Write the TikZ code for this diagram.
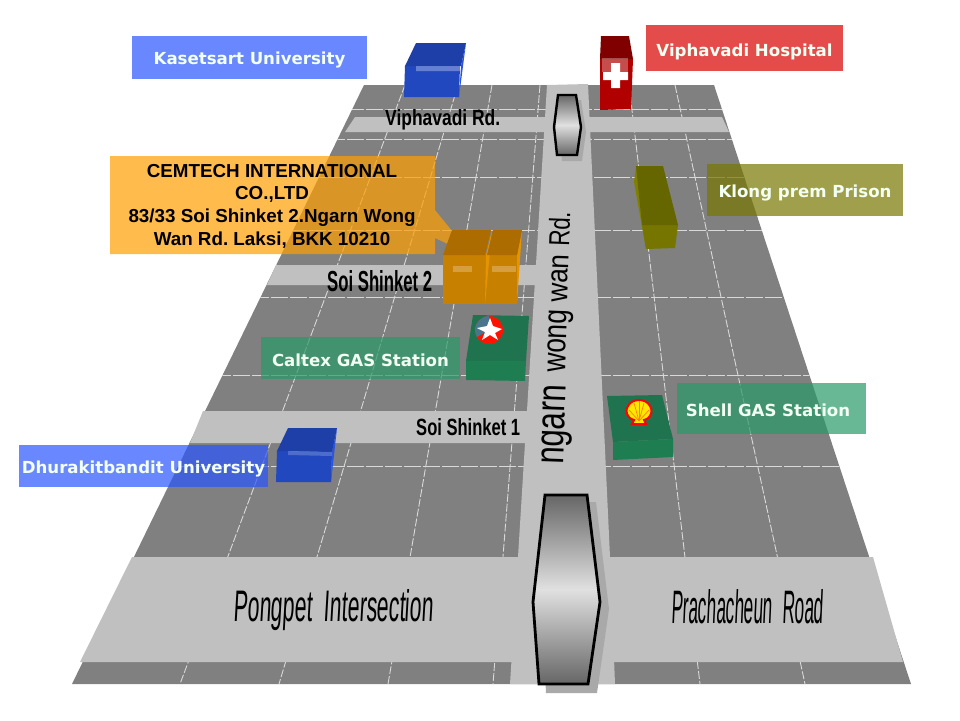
\documentclass[tikz,border=0pt]{standalone}
\usepackage{graphicx}
\usepackage{fontspec}
\setmainfont{Liberation Sans}
\newfontfamily\tagfont{DejaVu Sans}
\newfontfamily\leanfont[FakeSlant=0.12]{Liberation Sans}
\newcommand{\squeezed}[3]{\resizebox{#1pt}{#2pt}{#3}}
\newcommand{\lowered}[2]{\raisebox{-#1pt}[\height][\depth]{#2}}
\definecolor{groundgray}{HTML}{808080}
\definecolor{roadgray}{HTML}{C0C0C0}
\definecolor{shadegray}{HTML}{A9A9A9}
\definecolor{tagblue}{HTML}{2A55FF}
\definecolor{tagred}{HTML}{D80000}
\definecolor{tagolive}{HTML}{777700}
\definecolor{taggreen}{HTML}{2A9A68}
\definecolor{tagorange}{HTML}{FFA000}
\definecolor{blueroof}{HTML}{1F3FA8}
\definecolor{bluefront}{HTML}{2248C0}
\definecolor{blueside}{HTML}{2A55E0}
\definecolor{redroof}{HTML}{800000}
\definecolor{redfront}{HTML}{B00000}
\definecolor{oliveroof}{HTML}{666600}
\definecolor{olivefront}{HTML}{757500}
\definecolor{oliveside}{HTML}{808000}
\definecolor{orangeroof}{HTML}{AD6C00}
\definecolor{orangefront}{HTML}{C88000}
\definecolor{orangeside}{HTML}{E59400}
\definecolor{greenroof}{HTML}{20734F}
\definecolor{greenfront}{HTML}{1F7D52}

\begin{document}
\begin{tikzpicture}
				[x=1pt,y=-1pt,
				tag/.style={font=\tagfont\bfseries\fontsize{16.6}{20}\selectfont,text=white!95!green,fill opacity=.7,text opacity=1,inner sep=0pt},
				roadname/.style={anchor=base west,inner sep=0pt,text=black},
				gridline/.style={white!85!black,line width=.9pt}]
				\useasboundingbox (0,0) rectangle (960,720);
				\frenchspacing
				
				% ground and grid
				\fill[groundgray] (364,85) -- (714,85) -- (911,684) -- (72,684) -- cycle;
				\begin{scope}
				\clip (364,85) -- (714,85) -- (911,684) -- (72,684) -- cycle;
				\foreach \yy in {109,139,177,230,297,375,466}
				\draw[gridline,dash pattern=on 17pt off 2pt] (100,\yy) -- (900,\yy);
				\foreach \xa/\xb in {405/180,458/279,492/388,540/493,629/700,675/805}
				\draw[gridline,dash pattern=on 8pt off 2pt] (\xa,85) -- (\xb,684);
				\end{scope}
				
				% roads
				\fill[roadgray] (355,117) -- (722,117) -- (729,132) -- (345,132) -- cycle;
				\fill[roadgray] (276,265) -- (540,265) -- (540,285) -- (267,285) -- cycle;
				\fill[roadgray] (203,411) -- (530,411) -- (530,443) -- (190,443) -- cycle;
				\fill[roadgray] (132,557) -- (873,557) -- (903,662) -- (80,662) -- cycle;
				\fill[roadgray] (547,85) -- (588,84) -- (610,557) -- (615,684) -- (510,684) -- (518,557) -- cycle;
				
				% flyovers
				\fill[shadegray] (563,100) -- (581,100) -- (586,132) -- (582,161) -- (562,161) -- (559,132) -- cycle;
				\draw[line width=2.4pt,top color=black!60,bottom color=black!60,middle color=black!12] (558,95) -- (576,95) -- (581,127) -- (577,155) -- (557,155) -- (554,127) -- cycle;
				\fill[shadegray] (555,502) -- (596,502) -- (609,609) -- (597,693) -- (546,693) -- (542,609) -- cycle;
				\draw[line width=2.8pt,top color=black!60,bottom color=black!60,middle color=black!12] (545,495) -- (587,495) -- (600,602) -- (588,684) -- (539,684) -- (533,602) -- cycle;
				
				% name tags
				\node[tag,fill=tagblue,minimum width=235pt,minimum height=43pt] (kasetsart) at (249.5,57.5) {\lowered{2}{Kasetsart University}};
				\node[tag,fill=tagred,minimum width=197pt,minimum height=46pt] (hospital) at (744.5,48) {\lowered{3.5}{Viphavadi Hospital}};
				\node[tag,fill=tagolive,minimum width=196pt,minimum height=52pt] (prison) at (805,190) {\lowered{3}{Klong prem Prison}};
				\node[tag,fill=taggreen,minimum width=199pt,minimum height=42pt] (caltex) at (360.5,358) {\lowered{2}{Caltex GAS Station}};
				\node[tag,fill=taggreen,minimum width=189pt,minimum height=51pt] (shell) at (771.5,408.5) {\kern-7pt\lowered{1.5}{Shell GAS Station}};
				\node[tag,fill=tagblue,minimum width=249pt,minimum height=42pt] (dhurakit) at (143.5,466) {\lowered{3}{Dhurakitbandit University}};
				\fill[tagorange,fill opacity=.7] (110,156) -- (435,156) -- (435,210) -- (452,231) -- (450,245) -- (435,238) -- (435,254) -- (110,254) -- cycle;
				\node[align=center,inner sep=0pt,font=\bfseries\fontsize{18.8}{22.6}\selectfont] (cemtech) at (272,206) {CEMTECH INTERNATIONAL\\CO.,LTD\\83/33 Soi Shinket 2.Ngarn Wong\\Wan Rd. Laksi, BKK 10210};
				
				% kasetsart block
				\fill[bluefront] (405,66) -- (460,66) -- (459,97) -- (404,97) -- cycle;
				\fill[blueside] (466,43) -- (461,66) -- (459,97) -- cycle;
				\fill[blueroof] (416,43) -- (466,43) -- (461,66) -- (405,66) -- cycle;
				\fill[white,fill opacity=.3] (416,66) -- (461,66) -- (460,71) -- (416,71) -- cycle;
				
				% dhurakit block
				\fill[bluefront] (277,451) -- (332,452) -- (331,482) -- (276,482) -- cycle;
				\fill[blueside] (337,428) -- (332,452) -- (331,482) -- cycle;
				\fill[blueroof] (288,428) -- (337,428) -- (332,452) -- (277,451) -- cycle;
				\fill[white,fill opacity=.2] (288,451) -- (332,452) -- (332,456) -- (288,455) -- cycle;
				
				% hospital block
				\fill[redfront] (600,59) -- (633,59) -- (631,109) -- (600,110) -- cycle;
				\fill[redroof] (601,36) -- (629,36) -- (633,59) -- (600,59) -- cycle;
				\fill[white,fill opacity=.3] (602,58) -- (628,58) -- (628,72) -- (602,72) -- cycle;
				\fill[white] (611,63) -- (620,63) -- (620,72) -- (628,72) -- (628,80) -- (620,80) -- (620,88) -- (611,88) -- (611,80) -- (603,80) -- (603,72) -- (611,72) -- cycle;
				
				% prison block
				\fill[oliveside] (636,166) -- (634,182) -- (646,249) -- (650,225) -- cycle;
				\fill[olivefront] (642,225) -- (678,225) -- (675,248) -- (646,249) -- cycle;
				\fill[oliveroof] (636,166) -- (663,166) -- (678,225) -- (642,225) -- cycle;
				
				% cemtech block
				\fill[orangefront] (443,255) -- (517,255) -- (517,304) -- (443,304) -- cycle;
				\fill[orangeside] (486,255) -- (492,230) -- (485,304) -- cycle;
				\fill[orangeside] (517,255) -- (522,230) -- (517,304) -- cycle;
				\fill[orangeroof] (452,230) -- (491,230) -- (485,255) -- (443,255) -- cycle;
				\fill[orangeroof] (493,230) -- (522,230) -- (517,255) -- (487,255) -- cycle;
				\fill[white,fill opacity=.25] (453,266) -- (472,266) -- (472,272) -- (453,272) -- cycle;
				\fill[white,fill opacity=.25] (492,266) -- (516,266) -- (516,272) -- (492,272) -- cycle;
				
				% caltex block
				\fill[greenroof] (473,315) -- (529,316) -- (526,361) -- (466,361) -- cycle;
				\fill[greenfront] (466,361) -- (526,361) -- (525,381) -- (466,380) -- cycle;
				\fill[red!85!orange] (489,330) circle (14);
				\fill[cyan!50!black] (489,316) arc (270:150:14) -- (489,330) -- cycle;
				\fill[white] (490,318) -- (493,326) -- (502,329) -- (495,333) -- (498,340) -- (490,335) -- (482,340) -- (485,332) -- (477,328) -- (487,326) -- cycle;
				
				% shell block
				\fill[greenroof] (607,396) -- (662,395) -- (673,439) -- (613,442) -- cycle;
				\fill[greenfront] (613,442) -- (673,439) -- (673,457) -- (613,460) -- cycle;
				\filldraw[fill=yellow!90!orange,draw=red,line width=2pt] (632,424) -- (634,420) .. controls (626,418) and (625,410) .. (628,406) .. controls (632,398) and (646,398) .. (650,406) .. controls (653,410) and (652,418) .. (644,420) -- (646,424) -- cycle;
				\foreach \xr/\yr in {629/410,634/403,639/401,644/403,649/410}
				\draw[orange,line width=.7pt] (639,421) -- (\xr,\yr);
				
				% road names
				\node[roadname,font=\bfseries] (viphavadi) at (385,125) {\squeezed{115}{16}{Viphavadi Rd.}};
				\node[roadname,font=\bfseries] (shinket2) at (327,291) {\squeezed{105}{21}{Soi Shinket 2}};
				\node[roadname,font=\bfseries] (shinket1) at (416,435) {\squeezed{104}{17}{Soi Shinket 1}};
				\node[roadname,font=\leanfont] (pongpet) at (233,621) {\squeezed{200}{32}{Pongpet\ \ Intersection}};
				\node[roadname,font=\leanfont] (prachacheun) at (671,623) {\squeezed{152}{34}{Prachacheun\ \ Road}};
				\node[roadname,rotate=88] (ngarn) at (563,465) {\squeezed{80}{22}{ngarn}};
				\node[roadname,rotate=88] (wong) at (565,373) {\squeezed{63}{18}{wong}};
				\node[roadname,rotate=88] (wan) at (567,303) {\squeezed{48}{16}{wan}};
				\node[roadname,rotate=88] (rd) at (569,247) {\squeezed{35}{21}{Rd.}};
				\end{tikzpicture}
\end{document}
